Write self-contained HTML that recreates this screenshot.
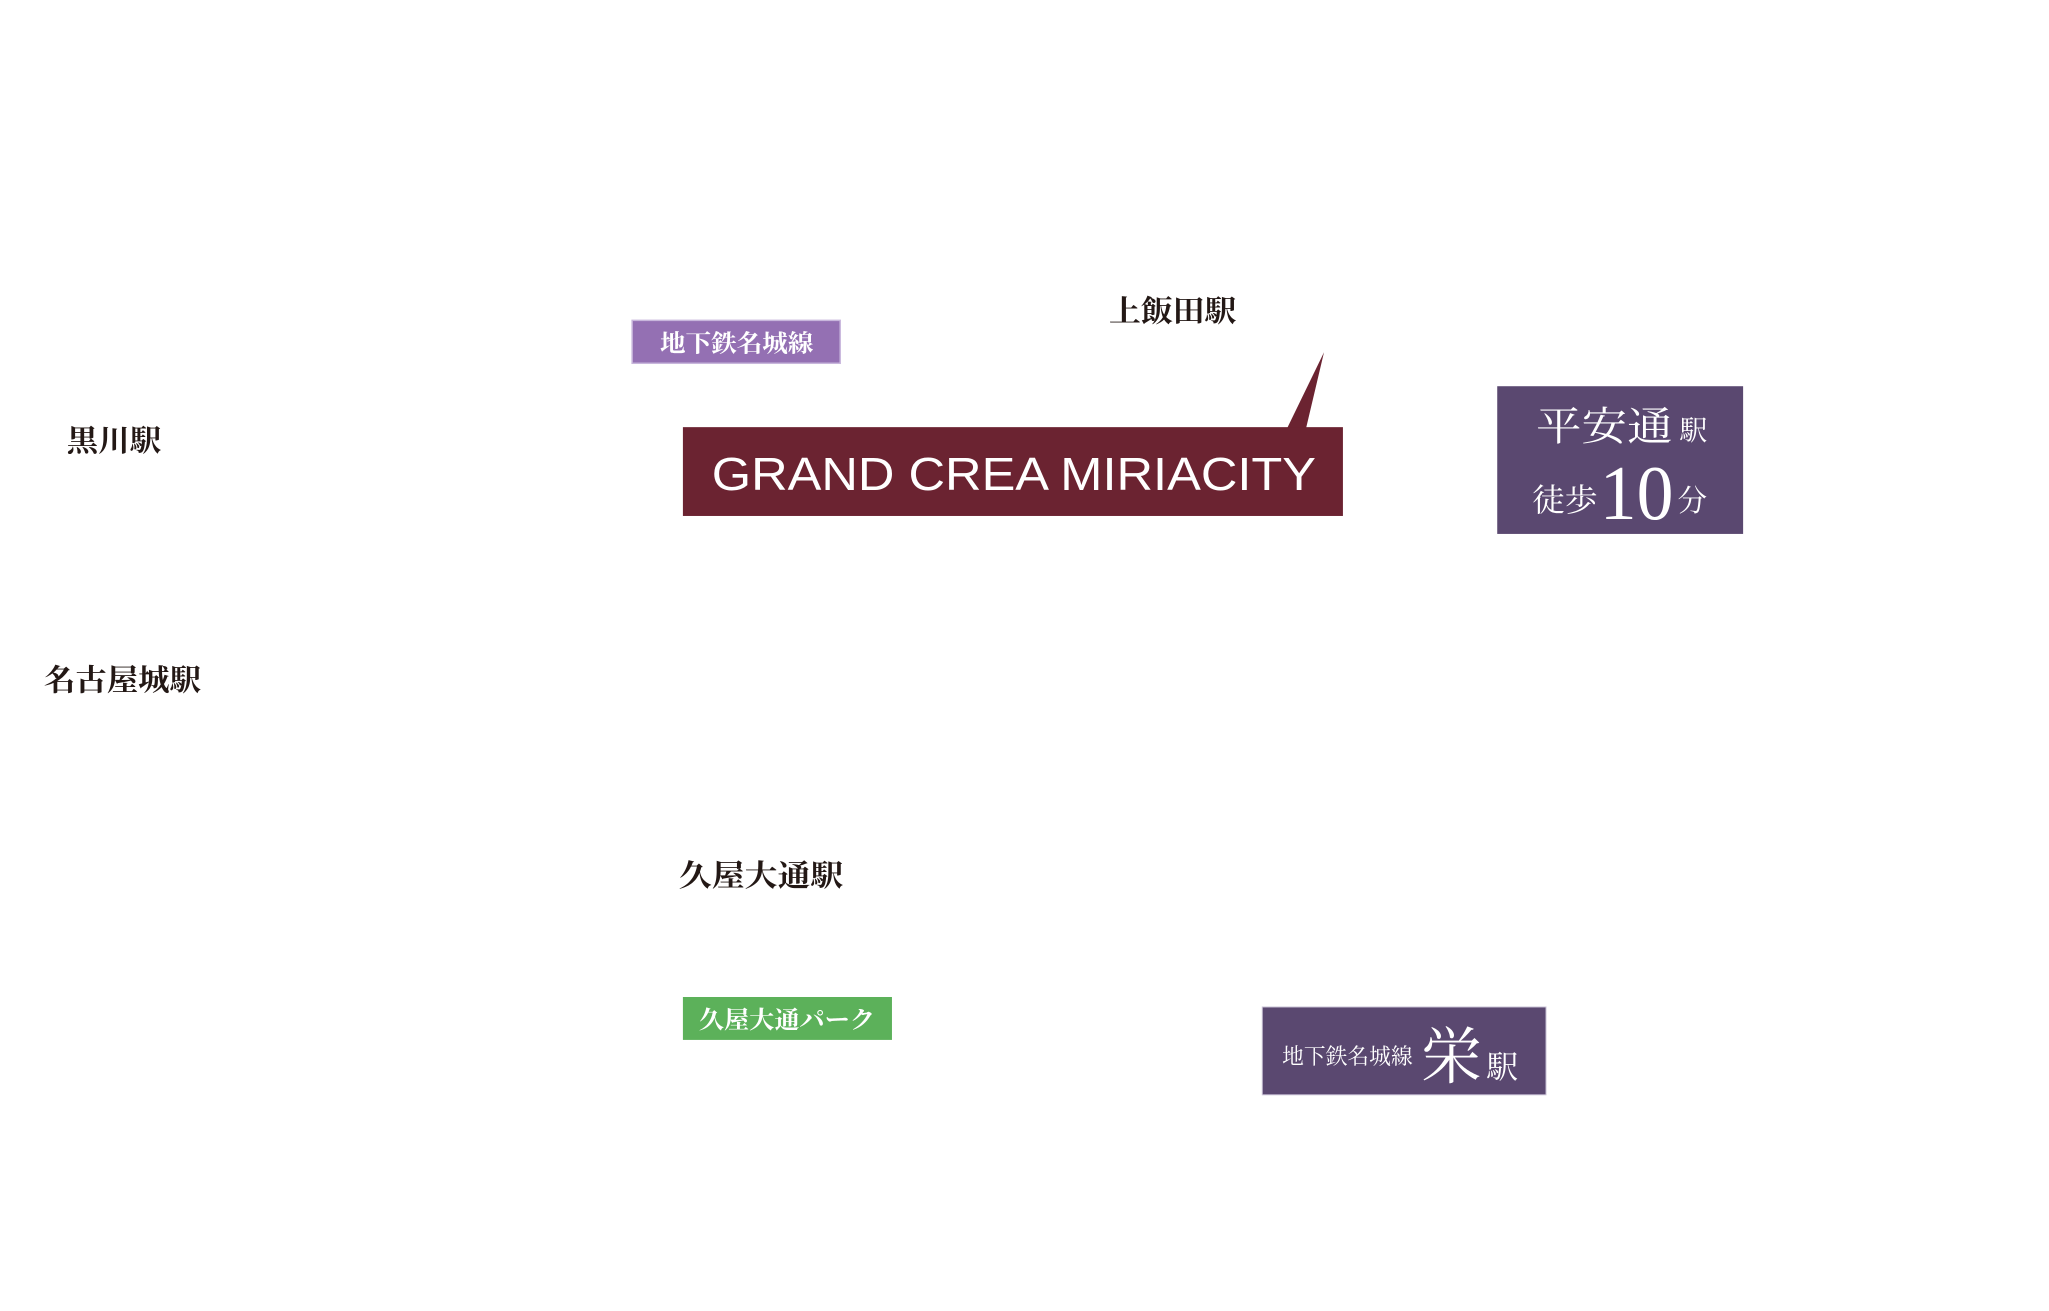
<!DOCTYPE html>
<html><head><meta charset="utf-8"><style>
html,body{margin:0;padding:0;background:#fff;}
svg{display:block}
.s{font-family:"Liberation Serif","Noto Serif CJK JP","Noto Serif CJK SC",serif;}
</style></head><body>
<svg width="2049" height="1311" viewBox="0 0 2049 1311" xmlns="http://www.w3.org/2000/svg">
<rect width="2049" height="1311" fill="#fff"/>
<g transform="translate(-1,-2) scale(0.9955,0.998)">
<g class="s" font-weight="700" fill="#231815" font-size="30">
<text x="1115" y="324" textLength="128" lengthAdjust="spacingAndGlyphs">上飯田駅</text>
<text x="68" y="454" textLength="95" lengthAdjust="spacingAndGlyphs">黒川駅</text>
<text x="45" y="694" textLength="158" lengthAdjust="spacingAndGlyphs">名古屋城駅</text>
<text x="683" y="890" textLength="165" lengthAdjust="spacingAndGlyphs">久屋大通駅</text>
</g>
<rect x="636" y="323" width="209" height="43" fill="#9470b3" stroke="#c8b6dc" stroke-width="1.5"/>
<text class="s" x="664" y="354" font-size="24" font-weight="700" fill="#fff" textLength="154" lengthAdjust="spacingAndGlyphs">地下鉄名城線</text>
<polygon points="1294,431 1331,355 1313,431" fill="#6b2331"/>
<rect x="687" y="430" width="663" height="89" fill="#6b2331"/>
<text x="716" y="493" font-family="Liberation Sans, sans-serif" font-size="46" fill="#fff" textLength="607" lengthAdjust="spacingAndGlyphs">GRAND CREA MIRIACITY</text>
<rect x="1505" y="389" width="247" height="148" fill="#5a4870"/>
<g class="s" fill="#fff">
<text x="1544" y="443" font-size="40" textLength="137" lengthAdjust="spacingAndGlyphs">平安通</text>
<text x="1688" y="443" font-size="28">駅</text>
<text x="1540" y="514" font-size="32" textLength="66" lengthAdjust="spacingAndGlyphs">徒歩</text>
<text x="1608" y="522" font-size="78" textLength="74" lengthAdjust="spacingAndGlyphs">10</text>
<text x="1686" y="514" font-size="30">分</text>
</g>
<rect x="687" y="1001" width="210" height="43" fill="#5cb15a"/>
<text class="s" x="703" y="1032" font-size="24" font-weight="700" fill="#fff" textLength="177" lengthAdjust="spacingAndGlyphs">久屋大通パーク</text>
<rect x="1269" y="1011" width="285" height="88" fill="#5a4870" stroke="#c9c2d6" stroke-width="1"/>
<g class="s" fill="#fff">
<text x="1289" y="1068" font-size="22" textLength="131" lengthAdjust="spacingAndGlyphs">地下鉄名城線</text>
<text x="1428" y="1082" font-size="62">栄</text>
<text x="1494" y="1082" font-size="32">駅</text>
</g>
</g>
</svg>
</body></html>
